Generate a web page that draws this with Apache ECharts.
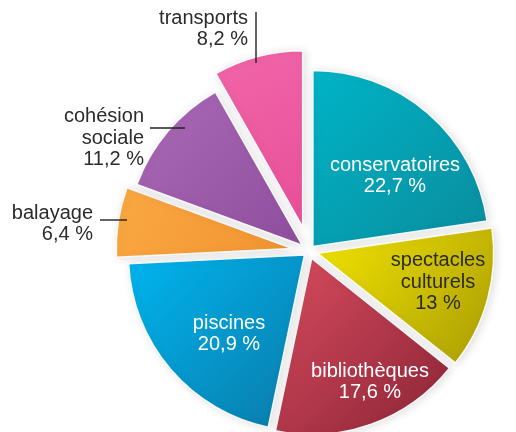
<!DOCTYPE html>
<html>
<head>
<meta charset="utf-8">
<title>Répartition des dépenses</title>
<script src="https://cdn.jsdelivr.net/npm/echarts@6/dist/echarts.min.js"></script>
<style>
    html, body { margin: 0; padding: 0; background: #fff; }
    #chart { width: 516px; height: 432px; }
</style>
</head>
<body>
<div id="chart"></div>
<script>
// data (clockwise from 12 o'clock)
var names = ['conservatoires', 'spectacles\nculturels', 'bibliothèques', 'piscines', 'balayage', 'cohésion\nsociale', 'transports'];
var shares = [22.7, 13, 17.6, 20.9, 6.4, 11.2, 8.2];

// look
var colors = [
    ['#00b4c7', '#0a8c9d'],
    ['#f3e500', '#a99c05'],
    ['#d84c5f', '#8a2435'],
    ['#00b5ef', '#0a7aa9'],
    ['#faa842', '#f19331'],
    ['#aa6ab7', '#8e4e9d'],
    ['#f166a8', '#e84f98']
];
var textColors = ['#fff', '#2b2b2b', '#fff', '#fff', '#2b2b2b', '#2b2b2b', '#2b2b2b'];
var explode = [6, 9, 8, 6, 17, 9, 25];   // px pulled out from centre
var outside = [false, false, false, false, true, true, true];
// where each label block sits (centre for inside labels, right edge for outside ones)
var labelAt = [[395, 176], [438, 282], [370, 382], [229, 334], [93, 224], [144, 138], [248, 29]];
// leader ticks, relative to the label anchor: [start, end]
var leader = [null, null, null, null, [[7, -4], [34, -4]], [[6, -10], [41, -10]], [[8, -17], [8, 34]]];

var cx = 309, cy = 251, R = 176;

var chart = echarts.init(document.getElementById('chart'));

function fmt(v) {
    return String(v).replace('.', ',') + ' %';
}

var total = shares.reduce(function (a, b) { return a + b; }, 0);
var series = [];
var cum = 0;

// one pie per slice so each can be pulled out by its own amount
shares.forEach(function (val, i) {
    var mid = (cum + val / 2) / total * Math.PI * 2;
    cum += val;
    var data = names.map(function (n, j) {
        if (j !== i) {
            return { name: n, value: shares[j], itemStyle: { color: 'transparent', borderWidth: 0 } };
        }
        return {
            name: n,
            value: shares[j],
            itemStyle: {
                color: new echarts.graphic.LinearGradient(0, 0, 1, 1, [
                    { offset: 0, color: colors[j][0] },
                    { offset: 1, color: colors[j][1] }
                ]),
                borderColor: 'rgba(255,255,255,0.9)',
                borderWidth: 1.5,
                shadowColor: 'rgba(0,0,0,0.12)',
                shadowBlur: 8,
                shadowOffsetX: 2,
                shadowOffsetY: 1
            }
        };
    });
    series.push({
        type: 'pie',
        z: 2,
        center: [cx + Math.sin(mid) * explode[i], cy - Math.cos(mid) * explode[i]],
        radius: [0, R],
        startAngle: 90,
        clockwise: true,
        silent: true,
        emphasis: { disabled: true },
        label: { show: false },
        labelLine: { show: false },
        data: data
    });
});

// transparent pie on top that only carries the labels and leader ticks
series.push({
    type: 'pie',
    z: 5,
    center: [cx, cy],
    radius: [0, R],
    startAngle: 90,
    clockwise: true,
    silent: true,
    avoidLabelOverlap: false,
    emphasis: { disabled: true },
    itemStyle: { color: 'transparent', borderWidth: 0 },
    label: {
        rotate: 0,
        fontFamily: 'Liberation Sans, Arial, sans-serif',
        fontSize: 20,
        lineHeight: 21.5,
        formatter: function (p) {
            return p.name + '\n' + fmt(p.value);
        }
    },
    labelLine: {
        length: 6,
        length2: 7,
        lineStyle: { color: '#222', width: 1.4 }
    },
    labelLayout: function (p) {
        var i = p.dataIndex;
        var at = labelAt[i];
        var out = {
            x: at[0],
            y: at[1],
            align: outside[i] ? 'right' : 'center',
            verticalAlign: 'middle'
        };
        if (leader[i]) {
            var a = leader[i][0], b = leader[i][1];
            out.labelLinePoints = [
                [at[0] + a[0], at[1] + a[1]],
                [at[0] + b[0], at[1] + b[1]],
                [at[0] + b[0], at[1] + b[1]]
            ];
        }
        return out;
    },
    data: names.map(function (n, j) {
        return {
            name: n,
            value: shares[j],
            label: {
                position: outside[j] ? 'outside' : 'inside',
                align: outside[j] ? 'right' : 'center',
                color: textColors[j]
            },
            labelLine: { show: outside[j] }
        };
    })
});

chart.setOption({
    animation: false,
    backgroundColor: '#fff',
    series: series
});
</script>
</body>
</html>
